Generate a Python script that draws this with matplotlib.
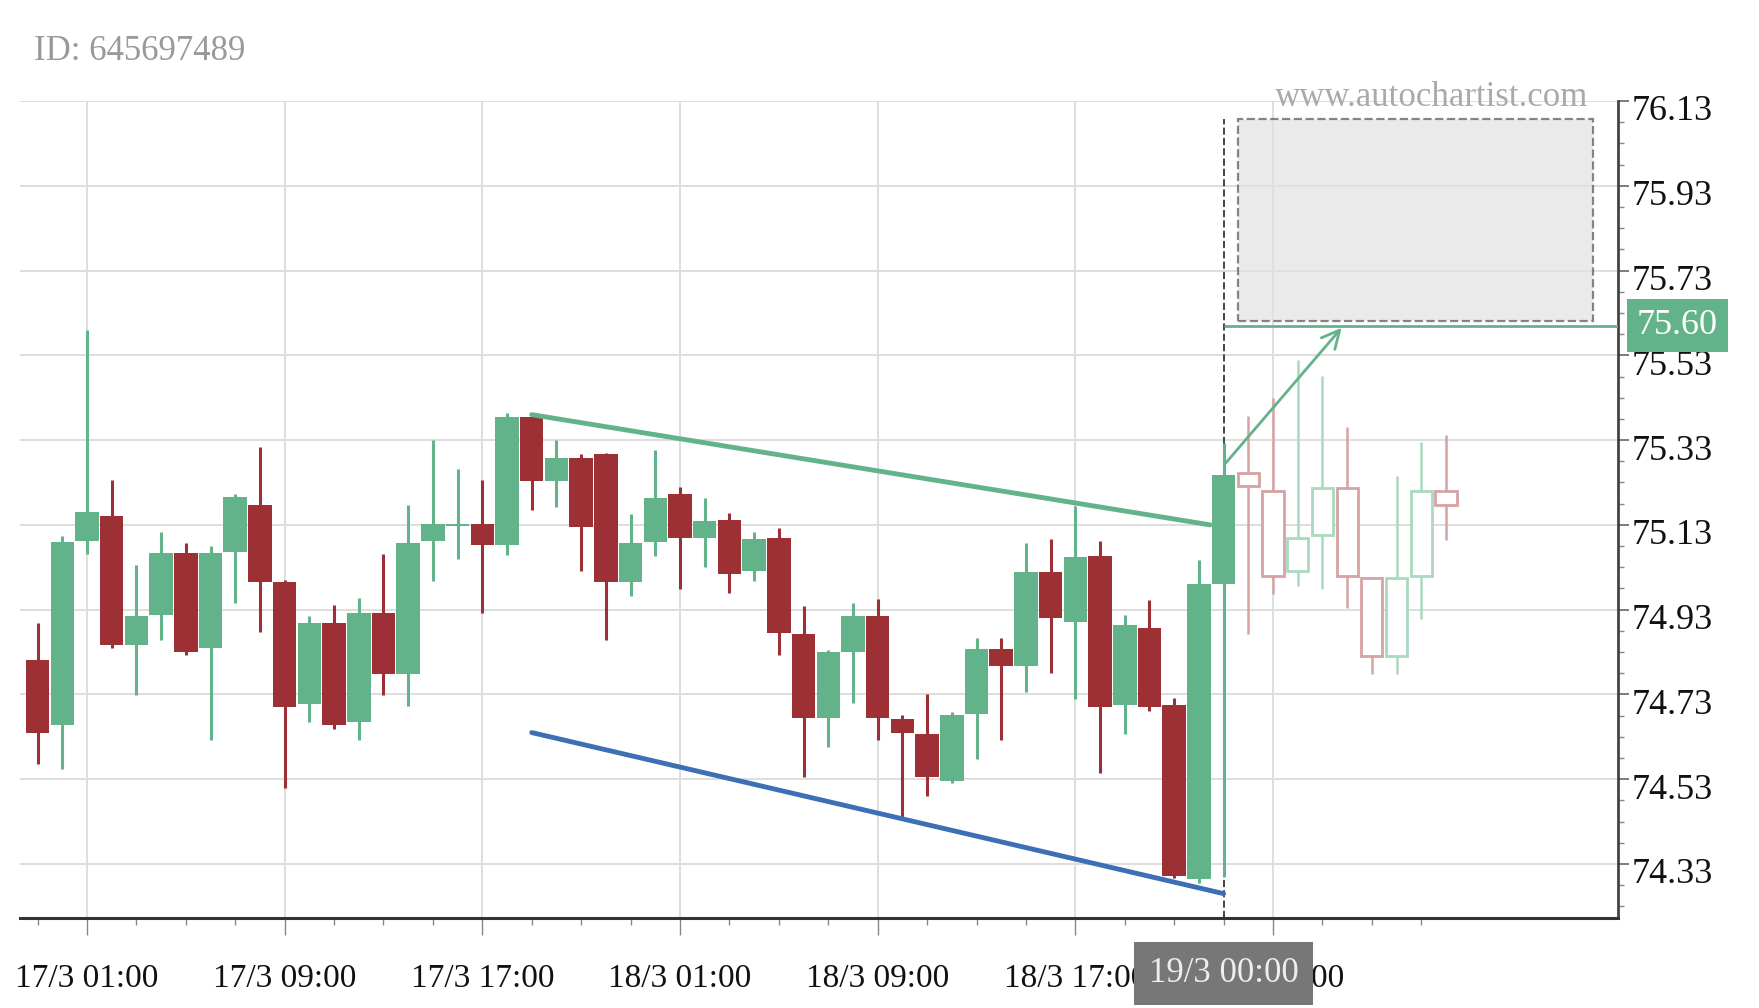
import numpy as np
import matplotlib
matplotlib.use("Agg")
import matplotlib.pyplot as plt
import matplotlib.transforms as mtransforms
from matplotlib.patches import Rectangle

plt.rcParams['font.family'] = ['Liberation Serif', 'DejaVu Serif']

# hourly candles, x = hours after 17/3 01:00
hours = [-2, -1, 0, 1, 2, 3, 4, 5, 6, 7, 8, 9, 10, 11, 12, 13, 14, 15, 16, 17, 18, 19, 20,
         21, 22, 23, 24, 25, 26, 27, 28, 29, 30, 31, 32, 33, 34, 35, 36, 37, 38, 39, 40,
         41, 42, 43, 44, 45, 46]
opens = [74.811, 74.657, 75.092, 75.150, 74.847, 74.918, 75.063, 74.839, 75.065, 75.177,
         74.995, 74.708, 74.898, 74.665, 74.922, 74.778, 75.091, 75.128, 75.132, 75.083,
         75.385, 75.233, 75.288, 75.298, 74.995, 75.090, 75.203, 75.100, 75.142, 75.021,
         75.098, 74.873, 74.675, 74.831, 74.916, 74.673, 74.637, 74.526, 74.683, 74.837,
         74.796, 75.019, 74.902, 75.056, 74.706, 74.886, 74.705, 74.295, 74.991]
highs = [74.898, 75.104, 75.590, 75.235, 75.035, 75.112, 75.088, 75.079, 75.203, 75.314,
         75.001, 74.914, 74.942, 74.958, 75.061, 75.176, 75.330, 75.261, 75.235, 75.393,
         75.389, 75.330, 75.298, 75.300, 75.156, 75.306, 75.219, 75.193, 75.158, 75.114,
         75.122, 74.939, 74.835, 74.946, 74.955, 74.681, 74.732, 74.689, 74.863, 74.863,
         75.088, 75.096, 75.174, 75.091, 74.917, 74.953, 74.721, 75.046, 75.322]
lows = [74.566, 74.554, 75.061, 74.839, 74.728, 74.859, 74.823, 74.623, 74.946, 74.878,
        74.510, 74.665, 74.649, 74.623, 74.728, 74.702, 74.997, 75.050, 74.922, 75.058,
        75.164, 75.172, 75.021, 74.859, 74.962, 75.057, 74.978, 75.031, 74.970, 74.997,
        74.823, 74.534, 74.607, 74.710, 74.623, 74.439, 74.490, 74.522, 74.578, 74.623,
        74.736, 74.780, 74.720, 74.544, 74.637, 74.690, 74.298, 74.285, 74.300]
closes = [74.639, 75.090, 75.160, 74.847, 74.916, 75.063, 74.831, 75.063, 75.195, 74.995,
          74.700, 74.898, 74.657, 74.922, 74.778, 75.088, 75.132, 75.133, 75.082, 75.385,
          75.233, 75.288, 75.126, 74.995, 75.088, 75.193, 75.100, 75.140, 75.013, 75.096,
          74.875, 74.675, 74.829, 74.916, 74.675, 74.639, 74.536, 74.681, 74.837, 74.796,
          75.019, 74.910, 75.055, 74.700, 74.893, 74.700, 74.301, 74.990, 75.247]

# faded "forecast" candles after the breakout
f_hours = [47, 48, 49, 50, 51, 52, 53, 54, 55]
f_opens = [75.253, 75.210, 75.022, 75.107, 75.218, 75.004, 74.821, 75.010, 75.210]
f_highs = [75.386, 75.429, 75.520, 75.481, 75.362, 75.004, 75.245, 75.326, 75.342]
f_lows = [74.872, 74.966, 74.986, 74.978, 74.933, 74.779, 74.779, 74.909, 75.095]
f_closes = [75.221, 75.010, 75.099, 75.218, 75.010, 74.821, 75.004, 75.210, 75.176]

# pattern lines
resist_x = [18, 45.45]
resist_y = [75.39, 75.13]
support_x = [18, 46]
support_y = [74.64, 74.26]
breakout_hour = 46
target = 75.60
arrow_from = (46, 75.27)
arrow_to = (50.85, 75.60)
zone_x = [46.6, 60.95]
zone_y = [75.61, 76.087]

xlabels = ['17/3 01:00', '17/3 09:00', '17/3 17:00', '18/3 01:00',
           '18/3 09:00', '18/3 17:00', '19/3 01:00']
ylabels = ['74.33', '74.53', '74.73', '74.93', '75.13', '75.33',
           '75.53', '75.73', '75.93', '76.13']

green = '#63b38a'
red = '#9c3034'
blue = '#3d6fb6'
f_green = '#a9d9bf'
f_red = '#d6a2a2'

fig = plt.figure(figsize=(17.59, 10.08), dpi=100)
ax = fig.add_axes([20 / 1759, 1 - 918 / 1008, 1598 / 1759, 817 / 1008])
ax.set_xlim(-2.71, 61.96)
ax.set_ylim(74.2025, 76.13)

# grid and ticks
yt = [float(v) for v in ylabels]
ax.set_yticks(yt)
ax.set_yticklabels(ylabels)
ax.set_yticks(np.arange(74.23, 76.14, 0.05), minor=True)
ax.set_xticks(np.arange(0, 49, 8))
ax.set_xticklabels(xlabels)
ax.set_xticks(np.arange(-2, 55, 2), minor=True)
ax.grid(True, which='major', color='#dedede', lw=1.4, zorder=0)
ax.set_axisbelow(True)

ax.yaxis.tick_right()
ax.tick_params(axis='y', which='major', direction='out', length=8, width=1.2,
               color='#666', labelsize=26, pad=2, labelcolor='#111')
ax.tick_params(axis='y', which='minor', direction='out', length=4, width=1,
               color='#888')
ax.tick_params(axis='x', which='major', direction='out', length=12, width=1,
               color='#888', labelsize=24, pad=21, labelcolor='#111')
ax.tick_params(axis='x', which='minor', direction='out', length=5, width=1,
               color='#888')
shift = mtransforms.ScaledTranslation(0, -0.07, fig.dpi_scale_trans)
for lab in ax.get_yticklabels():
    lab.set_transform(lab.get_transform() + shift)
for s in ['top', 'left']:
    ax.spines[s].set_visible(False)
ax.spines['bottom'].set_color('#333')
ax.spines['bottom'].set_linewidth(2.2)
ax.spines['right'].set_color('#444')
ax.spines['right'].set_linewidth(2)

# target zone
ax.add_patch(Rectangle((zone_x[0], zone_y[0]), zone_x[1] - zone_x[0], zone_y[1] - zone_y[0],
                       facecolor='#e2e2e2', alpha=0.7, edgecolor='#555', ls='--', lw=1.6,
                       zorder=1))
ax.vlines(breakout_hour, 74.2025, zone_y[1], colors='#444', linestyles='--', lw=1.4, zorder=1)

# candles
w = 0.95
for h, o, hi, lo, c in zip(hours, opens, highs, lows, closes):
    col = green if c >= o else red
    ax.vlines(h, lo, hi, colors=col, lw=2.2, zorder=3)
    ax.bar(h, max(abs(c - o), 0.004), bottom=min(o, c), width=w, color=col,
           linewidth=0, zorder=4)

for h, o, hi, lo, c in zip(f_hours, f_opens, f_highs, f_lows, f_closes):
    col = f_green if c >= o else f_red
    ax.vlines(h, lo, hi, colors=col, lw=1.8, zorder=3)
    ax.bar(h, max(abs(c - o), 0.004), bottom=min(o, c), width=w * 0.9, facecolor='white',
           edgecolor=col, linewidth=2, zorder=4)

# pattern
ax.plot(resist_x, resist_y, color=green, lw=3.5, zorder=5, solid_capstyle='round')
ax.plot(support_x, support_y, color=blue, lw=3.5, zorder=5, solid_capstyle='round')
ax.hlines(target, breakout_hour, 61.96, colors=green, lw=2, zorder=5)
ax.annotate('', xy=arrow_to, xytext=arrow_from,
            arrowprops=dict(arrowstyle='->', color=green, lw=2, mutation_scale=32),
            zorder=6)

# labels on axes
trans_y = mtransforms.blended_transform_factory(ax.transAxes, ax.transData)
ax.text(1.037, target, '%.2f' % target, transform=trans_y, ha='center', va='center',
        fontsize=26, color='white', clip_on=False, zorder=10,
        bbox=dict(boxstyle='square,pad=0.28', facecolor=green, edgecolor='none'))
trans_x = mtransforms.blended_transform_factory(ax.transData, ax.transAxes)
ax.text(breakout_hour, -0.068, '19/3 00:00', transform=trans_x, ha='center', va='center',
        fontsize=25, color='#eeeeee', clip_on=False, zorder=10,
        bbox=dict(boxstyle='square,pad=0.42', facecolor='#777777', edgecolor='none'))

fig.text(34 / 1759, 1 - 51 / 1008, 'ID: 645697489', ha='left', va='center',
         fontsize=25, color='#999999')
fig.text(1588 / 1759, 1 - 97 / 1008, 'www.autochartist.com', ha='right', va='center',
         fontsize=25, color='#aaaaaa')

fig.savefig('out.png', dpi=100)
